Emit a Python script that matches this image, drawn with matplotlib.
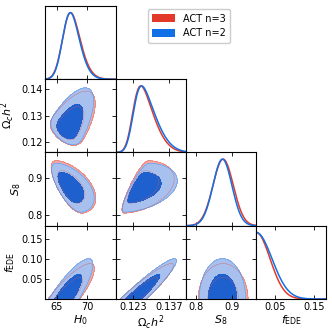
import numpy as np
import matplotlib
matplotlib.use("Agg")
import matplotlib.pyplot as plt
from matplotlib.patches import Patch

# parameters of the triangle plot
labels = [r"$H_0$", r"$\Omega_c h^2$", r"$S_8$", r"$f_{\rm EDE}$"]
limits = [(63.2, 74.6), (0.1162, 0.1437), (0.770, 0.970), (0.0, 0.182)]
xticks = [[65, 70], [0.123, 0.137], [0.8, 0.9], [0.05, 0.15]]
xticklabels = [["65", "70"], ["0.123", "0.137"], ["0.8", "0.9"], ["0.05", "0.15"]]
yticks = [None, [0.12, 0.13, 0.14], [0.8, 0.9], [0.05, 0.10, 0.15]]
yticklabels = [None, ["0.12", "0.13", "0.14"], ["0.8", "0.9"], ["0.05", "0.10", "0.15"]]

# posterior summary for each run (red first, blue drawn on top)
names = ["ACT n=3", "ACT n=2"]
line_colors = ["#e3392b", "#1170e6"]
fill_colors = [["#f2a8a2", "#e0564a"], ["#a7c0ee", "#1f60cf"]]
f_sigma = [0.036, 0.041]                      # width of f_EDE posterior
base = [[66.2, 0.1230, 0.876],               # H0, omch2, S8 at f_EDE = 0
        [66.2, 0.1232, 0.874]]
slope = [[48.0, 0.170, 0.0],                  # shift per unit f_EDE
         [40.0, 0.160, 0.0]]
width = [[1.05, 0.0021, 0.029],
         [1.00, 0.0021, 0.027]]
corr = {(0, 1): -0.6, (0, 2): -0.8, (1, 2): 0.93}

fgrid = np.linspace(0, 0.35, 400)


def f_weight(k):
    return np.exp(-0.5 * (fgrid / f_sigma[k]) ** 2)


def density_1d(k, i, x):
    if i == 3:
        return np.exp(-0.5 * (x / f_sigma[k]) ** 2) * (x >= 0)
    w = f_weight(k)
    mu = base[k][i] + slope[k][i] * fgrid
    g = np.exp(-0.5 * ((x[:, None] - mu[None, :]) / width[k][i]) ** 2)
    return (g * w[None, :]).sum(axis=1)


def density_2d(k, i, j, X, Y):
    # i is the x parameter, j the y parameter (j > i)
    if j == 3:
        mu = base[k][i] + slope[k][i] * Y
        p = np.exp(-0.5 * ((X - mu) / width[k][i]) ** 2)
        p *= np.exp(-0.5 * (Y / f_sigma[k]) ** 2)
        return p * (Y >= 0)
    w = f_weight(k)
    r = corr[(i, j)]
    mx = base[k][i] + slope[k][i] * fgrid
    my = base[k][j] + slope[k][j] * fgrid
    dx = (X[..., None] - mx) / width[k][i]
    dy = (Y[..., None] - my) / width[k][j]
    q = (dx ** 2 - 2 * r * dx * dy + dy ** 2) / (1 - r ** 2)
    return (np.exp(-0.5 * q) * w).sum(axis=-1)


def levels_for(P):
    flat = np.sort(P.ravel())[::-1]
    cum = np.cumsum(flat) / flat.sum()
    l68 = flat[np.searchsorted(cum, 0.68)]
    l95 = flat[np.searchsorted(cum, 0.95)]
    return l95, l68


fig = plt.figure(figsize=(3.32, 3.32), dpi=100)
fig.subplots_adjust(left=0.137, right=0.983, top=0.982, bottom=0.0994,
                    wspace=0, hspace=0)
axes = fig.subplots(4, 4)

for row in range(4):
    for col in range(4):
        ax = axes[row, col]
        if col > row:
            ax.remove()
            continue
        for s in ax.spines.values():
            s.set_linewidth(0.8)
        ax.tick_params(direction="in", top=True, right=True, length=3,
                       width=0.6, labelsize=7, pad=2)
        ax.set_xlim(limits[col])
        ax.set_xticks(xticks[col])
        if row == 3:
            ax.set_xticklabels(xticklabels[col])
            ax.set_xlabel(labels[col], fontsize=8, labelpad=1)
        else:
            ax.set_xticklabels([])

        if col == row:
            x = np.linspace(*limits[col], 400)
            for k in range(2):
                p = density_1d(k, col, x)
                ax.plot(x, p / p.max(), color=line_colors[k], lw=1.1)
            ax.set_ylim(0, 1.1)
            ax.set_yticks([])
            ax.tick_params(left=False, right=False)
            continue

        ax.set_ylim(limits[row])
        ax.set_yticks(yticks[row])
        if col == 0:
            ax.set_yticklabels(yticklabels[row])
            ax.set_ylabel(labels[row], fontsize=8, labelpad=3)
        else:
            ax.set_yticklabels([])

        (x0, x1), (y0, y1) = limits[col], limits[row]
        xs = np.linspace(x0 - 0.4 * (x1 - x0), x1 + 0.4 * (x1 - x0), 180)
        ys = np.linspace(0 if row == 3 else y0 - 0.4 * (y1 - y0),
                         y1 + 0.4 * (y1 - y0), 180)
        X, Y = np.meshgrid(xs, ys)
        for k in range(2):
            P = density_2d(k, col, row, X, Y)
            l95, l68 = levels_for(P)
            ax.contourf(X, Y, P, levels=[l95, l68, P.max() * 1.01],
                        colors=fill_colors[k])
            ax.contour(X, Y, P, levels=[l95, l68],
                       colors=[line_colors[k], fill_colors[k][1]],
                       linewidths=0.4, alpha=0.5)

handles = [Patch(facecolor=c, edgecolor="none") for c in line_colors]
fig.legend(handles, names, loc="upper left", bbox_to_anchor=(0.43, 0.988),
           fontsize=7, handlelength=2.3, handleheight=0.9, borderpad=0.5,
           labelspacing=0.45, framealpha=1, edgecolor="#cccccc")

fig.savefig("out.png", dpi=100)
